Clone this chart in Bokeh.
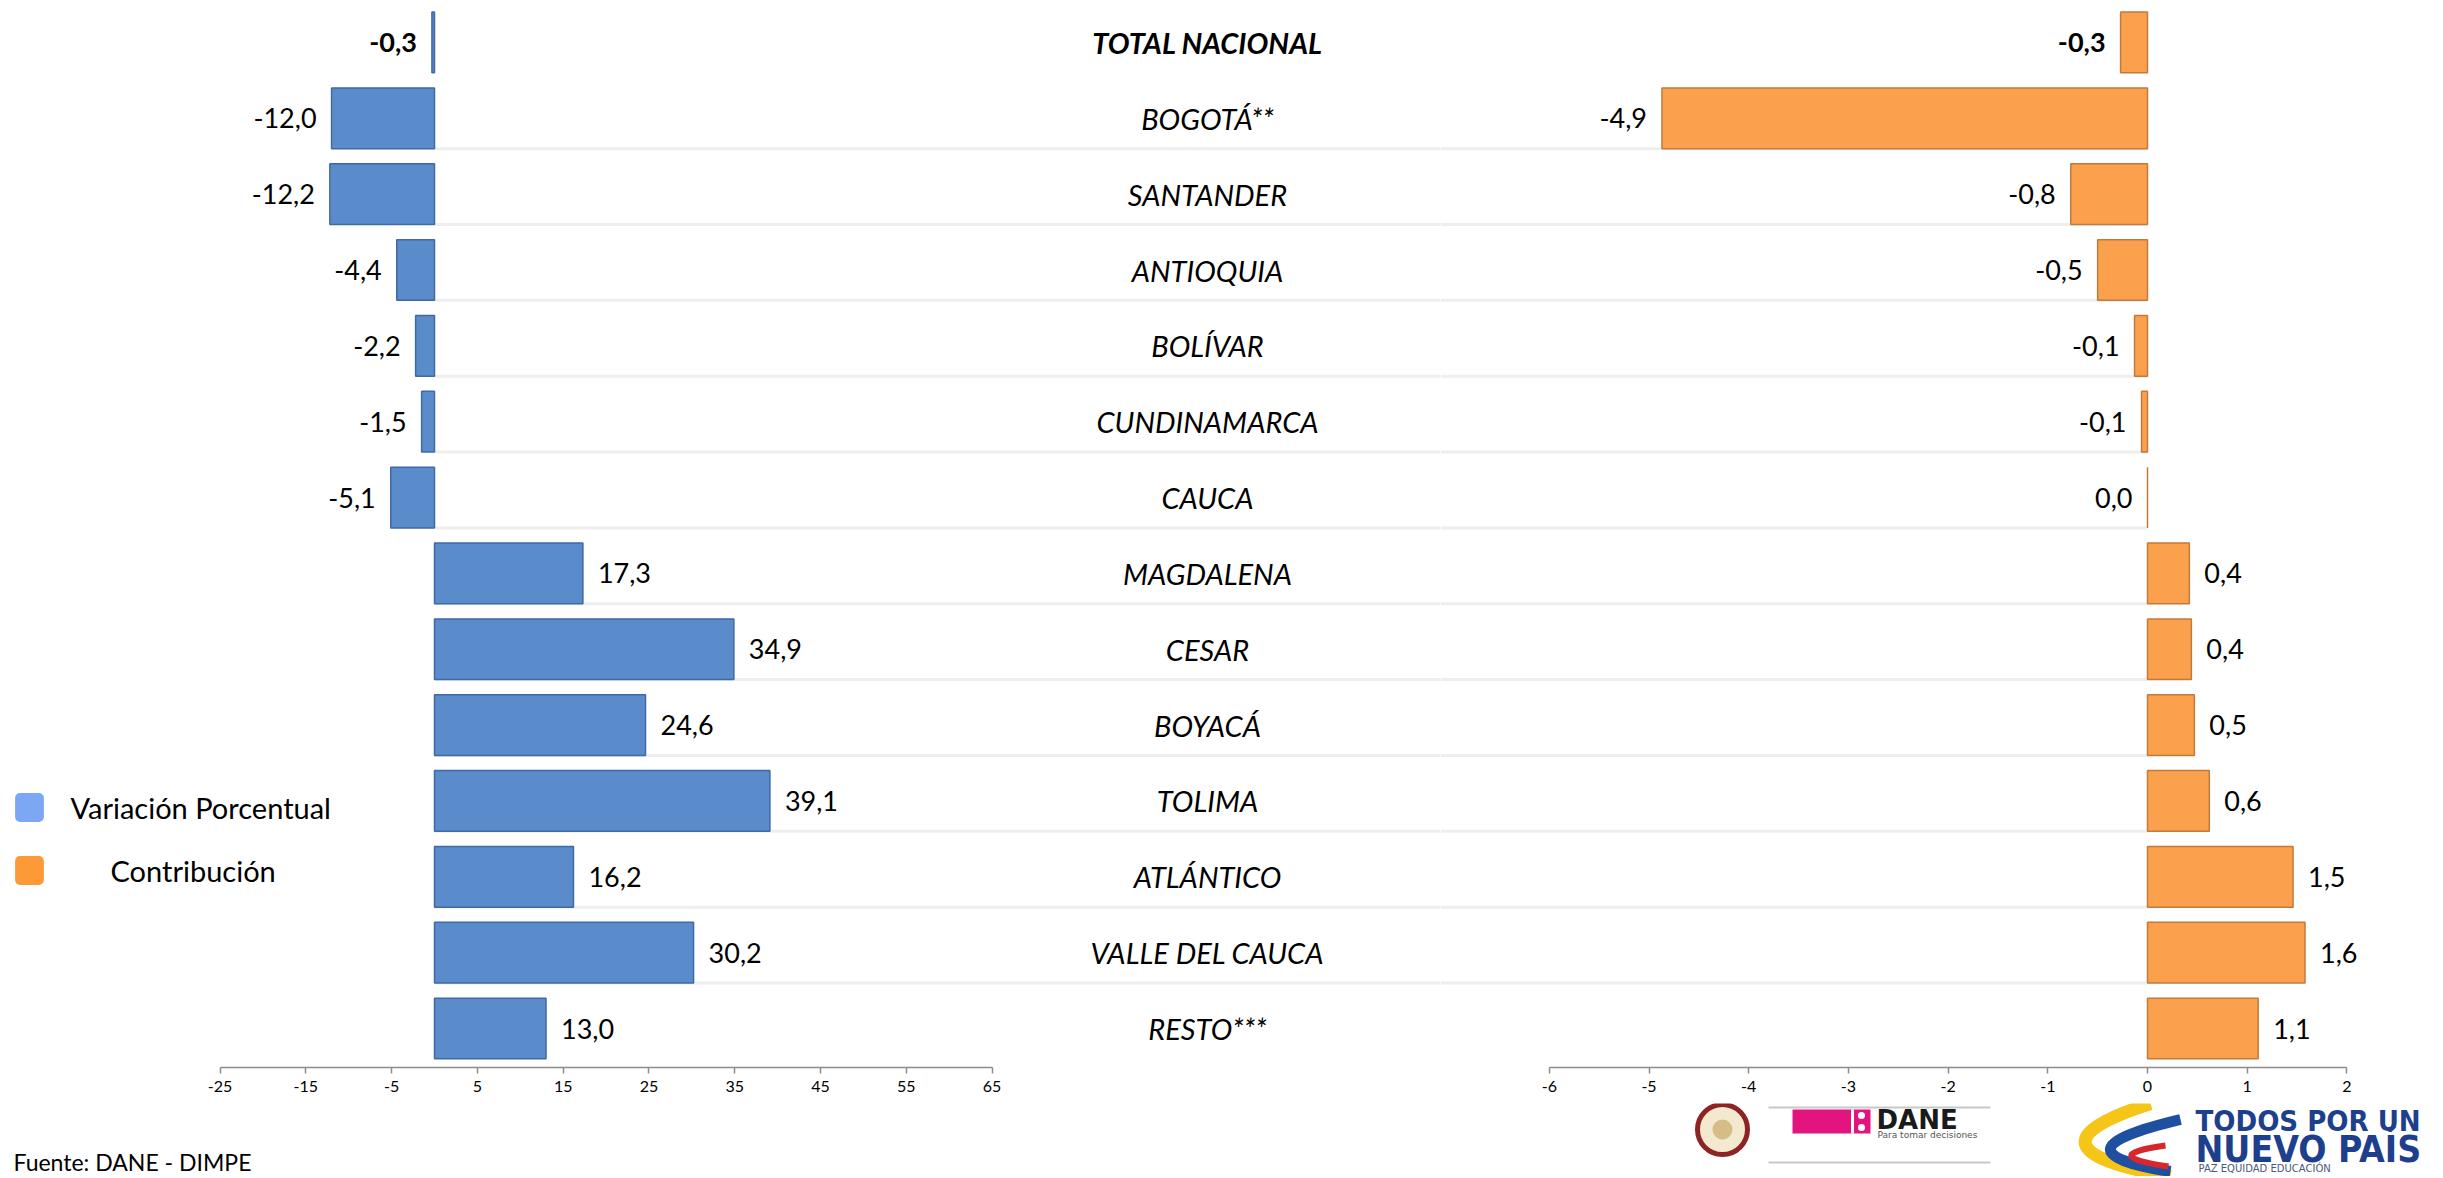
from bokeh.plotting import figure
from bokeh.models import (ColumnDataSource, Range1d, LinearAxis, FixedTicker, Label)
from bokeh.layouts import row, column
from bokeh.embed import file_html
from bokeh.resources import INLINE
from bokeh.core.properties import value

# ---------------- data ----------------
categories = ["TOTAL NACIONAL", "BOGOTÁ**", "SANTANDER", "ANTIOQUIA", "BOLÍVAR",
              "CUNDINAMARCA", "CAUCA", "MAGDALENA", "CESAR", "BOYACÁ", "TOLIMA",
              "ATLÁNTICO", "VALLE DEL CAUCA", "RESTO***"]
variacion = [-0.3, -12.0, -12.2, -4.4, -2.2, -1.5, -5.1, 17.3, 34.9, 24.6, 39.1,
             16.2, 30.2, 13.0]
contribucion = [-0.27, -4.87, -0.77, -0.50, -0.13, -0.06, 0.0, 0.42, 0.44, 0.47,
                0.62, 1.46, 1.58, 1.11]
left_ticks = [-25, -15, -5, 5, 15, 25, 35, 45, 55, 65]
right_ticks = [-6, -5, -4, -3, -2, -1, 0, 1, 2]
legend_labels = ["Variación Porcentual", "Contribución"]
source_note = "Fuente: DANE - DIMPE"

# ---------------- geometry / style ----------------
FONT = "Lato"
W_LEFT, W_RIGHT = 1440, 1003
FRAME_H = 1067
AXIS_PANEL = 36
FOOT_H = 73
ROW_PX = 75.85
Y_START = -39 / ROW_PX
Y_END = Y_START + FRAME_H / ROW_PX
L_ZERO_PX, L_SCALE = 434, 8.578
R_ZERO_PX, R_SCALE = 707, 99.7
L_START, L_END = -L_ZERO_PX / L_SCALE, (W_LEFT - L_ZERO_PX) / L_SCALE
R_START, R_END = -R_ZERO_PX / R_SCALE, (W_RIGHT - R_ZERO_PX) / R_SCALE
LABEL_X = (1207 - L_ZERO_PX) / L_SCALE
BAR_H = 0.8

BLUE, BLUE_EDGE = "#5A8BCB", "#3F6AA3"
ORANGE, ORANGE_EDGE = "#FBA04D", "#C27A3C"
LEG_BLUE, LEG_ORANGE = "#7BA7F5", "#FD9A38"
SEP = "#EEEEEE"
LOGO_BLUE = "#1D3F8C"

n = len(categories)
ypos = [n - 1 - i for i in range(n)]


def fmt(v):
    return f"{v:.1f}".replace(".", ",")


def make_source(vals):
    return ColumnDataSource(dict(
        y=ypos, v=vals,
        txt=[fmt(v) for v in vals],
        align=["right" if v <= 0 else "left" for v in vals],
        xoff=[-15 if v <= 0 else 15 for v in vals],
        style=["bold" if i == 0 else "normal" for i in range(n)],
        cat=categories,
        cstyle=["bold italic" if i == 0 else "italic" for i in range(n)],
    ))


src_l = make_source(variacion)
src_r = make_source(contribucion)
sep_y = [y - BAR_H / 2 for y in ypos[1:-1]]


def base_fig(w, xr, h=FRAME_H + AXIS_PANEL, bottom=AXIS_PANEL, yr=None):
    p = figure(width=w, height=h, x_range=xr,
               y_range=yr if yr is not None else Range1d(Y_START, Y_END),
               x_axis_location=None, y_axis_location=None,
               toolbar_location=None, output_backend="svg",
               min_border_left=0, min_border_right=0, min_border_top=0,
               min_border_bottom=bottom, outline_line_color=None,
               background_fill_color="white", border_fill_color="white")
    p.grid.visible = False
    return p


def style_axis(ax, ticks):
    ax.axis_line_color = "#8C8C8C"
    ax.axis_line_width = 1.5
    ax.major_tick_line_color = "#8C8C8C"
    ax.major_tick_line_width = 1.5
    ax.major_tick_out = 6
    ax.major_tick_in = 0
    ax.minor_tick_line_color = None
    ax.major_label_text_font = FONT
    ax.major_label_text_font_size = "16px"
    ax.major_label_text_color = "black"
    ax.major_label_standoff = 7
    ax.major_label_overrides = {t: str(t) for t in ticks}


# ---------------- left panel ----------------
p1 = base_fig(W_LEFT, Range1d(L_START, L_END))
p1.segment(x0=0, x1=L_END, y0=sep_y, y1=sep_y, line_color=SEP, line_width=3)
p1.hbar(y="y", right="v", left=0, height=BAR_H, source=src_l,
        fill_color=BLUE, line_color=BLUE_EDGE, line_width=1.5)
p1.text(x="v", y="y", text="txt", text_align="align", x_offset="xoff",
        text_baseline="middle", text_font=value(FONT), text_font_size="27px",
        text_font_style="style", text_color="black", source=src_l)
p1.text(x=LABEL_X, y="y", text="cat", text_align="center", text_baseline="middle",
        text_font=value(FONT), text_font_size="29px", text_font_style="cstyle",
        text_color="black", source=src_l)

ax1 = LinearAxis(ticker=FixedTicker(ticks=left_ticks),
                 bounds=(left_ticks[0], left_ticks[-1]))
style_axis(ax1, left_ticks)
p1.add_layout(ax1, "below")

# legend (swatches + texts)
for label, col, ly, lx in [(legend_labels[0], LEG_BLUE, 260, 70),
                           (legend_labels[1], LEG_ORANGE, 197, 110)]:
    p1.add_layout(Label(x=29, y=ly, x_units="screen", y_units="screen", text=" ",
                        text_font_size="10px", text_align="center",
                        text_baseline="middle", padding=(13, 9), border_radius=5,
                        background_fill_color=col))
    p1.add_layout(Label(x=lx, y=ly, x_units="screen", y_units="screen", text=label,
                        text_font=FONT, text_font_size="29px",
                        text_baseline="middle", text_color="black"))

# ---------------- right panel ----------------
p2 = base_fig(W_RIGHT, Range1d(R_START, R_END))
p2.segment(x0=R_START, x1=0, y0=sep_y, y1=sep_y, line_color=SEP, line_width=3)
p2.hbar(y="y", right="v", left=0, height=BAR_H, source=src_r,
        fill_color=ORANGE, line_color=ORANGE_EDGE, line_width=1.5)
p2.text(x="v", y="y", text="txt", text_align="align", x_offset="xoff",
        text_baseline="middle", text_font=value(FONT), text_font_size="27px",
        text_font_style="style", text_color="black", source=src_r)

ax2 = LinearAxis(ticker=FixedTicker(ticks=right_ticks),
                 bounds=(right_ticks[0], right_ticks[-1]))
style_axis(ax2, right_ticks)
p2.add_layout(ax2, "below")

# ---------------- footer: source note + logos (pixel coordinates) ----------------
pf = base_fig(W_LEFT + W_RIGHT, Range1d(0, W_LEFT + W_RIGHT), h=FOOT_H, bottom=0,
              yr=Range1d(FOOT_H, 0))
pf.text(x=[13], y=[44], text=[source_note], text_baseline="top",
        text_font=value(FONT), text_font_size="23px", text_color="black")

# coat of arms (approx.)
pf.scatter(x=[1722], y=[26], size=50, marker="circle", fill_color="#F3E9CF",
           line_color="#8E2323", line_width=5)
pf.scatter(x=[1722], y=[26], size=20, marker="circle", fill_color="#C9A96A",
           line_color=None, fill_alpha=0.7)
# DANE logo (approx.)
pf.segment(x0=[1768, 1768], x1=[1990, 1990], y0=[4, 59], y1=[4, 59],
           line_color="#C8C8C8", line_width=2)
pf.rect(x=[1831], y=[18], width=78, height=24, fill_color="#E4147F", line_color=None)
pf.segment(x0=[1852], x1=[1852], y0=[6], y1=[30], line_color="white", line_width=3)
pf.scatter(x=[1861, 1861], y=[12, 24], size=7, marker="circle", fill_color="white",
           line_color=None)
pf.text(x=[1876], y=[16], text=["DANE"], text_baseline="middle",
        text_font=value("DejaVu Sans"), text_font_style="bold",
        text_font_size="26px", text_color="#1A1A1A")
pf.text(x=[1877], y=[31], text=["Para tomar decisiones"], text_baseline="middle",
        text_font=value("DejaVu Sans"), text_font_size="9px", text_color="#555555")
# swoosh (approx.)
pf.quadratic(x0=[2150], y0=[0], cx=[2010], cy=[45], x1=[2170], y1=[73],
             line_color="#F5C518", line_width=13)
pf.quadratic(x0=[2180], y0=[16], cx=[2045], cy=[48], x1=[2170], y1=[68],
             line_color="#1F4FA0", line_width=11)
pf.quadratic(x0=[2165], y0=[42], cx=[2095], cy=[52], x1=[2168], y1=[63],
             line_color="#D7262C", line_width=6)
# "Todos por un nuevo país"
pf.text(x=[2195], y=[0], text=["TODOS POR UN"], text_baseline="top",
        text_font=value("DejaVu Sans Condensed"), text_font_style="bold",
        text_font_size="29px", text_color=LOGO_BLUE)
pf.text(x=[2195], y=[24], text=["NUEVO PAÍS"], text_baseline="top",
        text_font=value("DejaVu Sans Condensed"), text_font_style="bold",
        text_font_size="37px", text_color=LOGO_BLUE)
pf.text(x=[2198], y=[59], text=["PAZ   EQUIDAD   EDUCACIÓN"], text_baseline="top",
        text_font=value("DejaVu Sans"), text_font_size="10px", text_color="#4A5A7A")

layout = column(row(p1, p2, spacing=0), pf, spacing=0)
open("out.html", "w").write(file_html(layout, INLINE))
